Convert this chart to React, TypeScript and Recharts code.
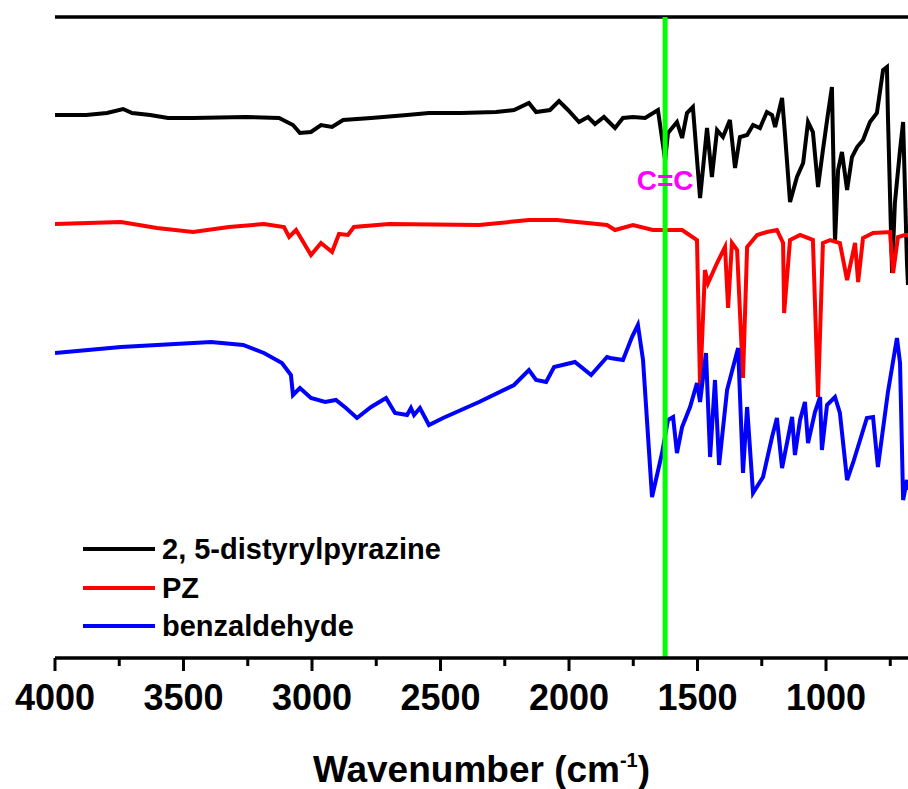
import React from "react";
import {
  LineChart,
  Line,
  XAxis,
  YAxis,
  ReferenceLine,
  Legend,
} from "recharts";

// wavenumbers (cm-1) and relative transmittance (a.u., offset spectra)
const blackWn = [4000, 3879, 3798, 3735, 3700, 3630, 3560, 3463, 3257, 3128, 3074, 3047, 3004, 2965, 2922, 2879, 2770, 2630, 2545, 2420, 2284, 2214, 2156, 2128, 2074, 2039, 2004, 1961, 1926, 1899, 1864, 1821, 1790, 1751, 1704, 1654, 1626, 1615, 1580, 1560, 1541, 1518, 1490, 1463, 1444, 1424, 1401, 1374, 1354, 1335, 1307, 1284, 1257, 1230, 1210, 1198, 1171, 1160, 1140, 1113, 1089, 1070, 1051, 1031, 1012, 992, 977, 965, 953, 938, 918, 899, 879, 856, 829, 802, 778, 763, 759, 743, 732, 712, 700, 685, 681];
const blackT = [543, 543, 545, 549, 545, 543, 540, 540, 541, 540, 533, 525, 526, 533, 531, 538, 540, 543, 545, 545, 546, 548, 555, 546, 548, 557, 548, 536, 541, 534, 541, 530, 540, 541, 540, 548, 498, 525, 536, 520, 545, 551, 460, 530, 481, 528, 521, 538, 490, 521, 523, 533, 530, 546, 543, 531, 560, 525, 456, 481, 495, 536, 526, 471, 508, 545, 571, 416, 488, 506, 468, 501, 511, 518, 536, 545, 588, 591, 541, 385, 455, 508, 536, 395, 373];

const redWn = [4000, 3743, 3603, 3463, 3323, 3187, 3109, 3089, 3062, 3004, 2965, 2922, 2895, 2860, 2837, 2700, 2350, 2156, 2047, 1852, 1821, 1751, 1674, 1560, 1502, 1490, 1471, 1459, 1424, 1393, 1381, 1366, 1346, 1323, 1307, 1268, 1230, 1191, 1167, 1163, 1140, 1101, 1051, 1031, 1012, 984, 946, 918, 887, 875, 856, 817, 751, 739, 720, 693, 681];
const redT = [434, 436, 430, 426, 431, 434, 431, 421, 428, 403, 415, 406, 424, 423, 431, 434, 433, 438, 438, 433, 428, 433, 428, 428, 418, 270, 388, 375, 395, 411, 350, 415, 408, 280, 411, 423, 426, 428, 415, 345, 418, 423, 418, 261, 415, 418, 415, 378, 415, 376, 420, 425, 426, 385, 421, 423, 423];

const blueWn = [4000, 3743, 3393, 3268, 3187, 3117, 3082, 3074, 3047, 3004, 2949, 2907, 2868, 2825, 2770, 2712, 2677, 2630, 2615, 2603, 2580, 2545, 2490, 2350, 2214, 2156, 2128, 2089, 2058, 1977, 1914, 1852, 1840, 1790, 1755, 1732, 1712, 1677, 1638, 1615, 1595, 1580, 1560, 1529, 1502, 1490, 1467, 1451, 1432, 1416, 1385, 1342, 1323, 1307, 1284, 1245, 1210, 1191, 1171, 1132, 1121, 1101, 1082, 1070, 1043, 1023, 1016, 996, 965, 946, 918, 895, 841, 817, 798, 759, 724, 712, 700, 685, 681];
const blueT = [305, 311, 316, 313, 305, 295, 283, 263, 270, 260, 256, 258, 250, 240, 251, 260, 245, 243, 250, 243, 250, 233, 240, 256, 273, 288, 278, 276, 291, 296, 283, 301, 300, 298, 321, 333, 298, 161, 205, 238, 241, 205, 231, 251, 275, 256, 305, 201, 278, 193, 268, 310, 185, 251, 165, 181, 221, 240, 190, 241, 203, 238, 256, 215, 246, 261, 208, 253, 261, 245, 178, 195, 240, 241, 191, 266, 320, 295, 158, 178, 168];

const majorTicks = [4000, 3500, 3000, 2500, 2000, 1500, 1000];
const allTicks = [4000, 3750, 3500, 3250, 3000, 2750, 2500, 2250, 2000, 1750, 1500, 1250, 1000, 750];

const CC_POS = 1626;
const Y_MAX = 641;

const toRows = (wn: number[], t: number[]) => wn.map((w, i) => ({ wn: w, t: t[i] }));
const blackData = toRows(blackWn, blackT);
const redData = toRows(redWn, redT);
const blueData = toRows(blueWn, blueT);

const FONT = '"Liberation Sans", Arial, sans-serif';

const WnTick = (props: any) => {
  const { x, y, payload } = props;
  const major = majorTicks.includes(payload.value);
  return (
    <g>
      <line x1={x} x2={x} y1={y} y2={y + (major ? 13 : 8)} stroke="#000" strokeWidth={3} />
      {major && (
        <text x={x} y={y + 52} textAnchor="middle" fontFamily={FONT} fontWeight="bold" fontSize={36} fill="#000">
          {payload.value}
        </text>
      )}
    </g>
  );
};

const AxisTitle = (props: any) => {
  const vb = props.viewBox || {};
  const cx = vb.x + vb.width / 2;
  return (
    <text x={cx} y={vb.y + 124} textAnchor="middle" fontFamily={FONT} fontWeight="bold" fontSize={37} fill="#000">
      Wavenumber (cm<tspan dy={-15} fontSize={20}>-1</tspan>
      <tspan dy={15}>)</tspan>
    </text>
  );
};

const CCLabel = (props: any) => {
  const vb = props.viewBox || {};
  return (
    <text x={vb.x} y={vb.y + 173} textAnchor="middle" fontFamily={FONT} fontWeight="bold" fontSize={28} fill="#ff00ff">
      C=C
    </text>
  );
};

const LegendBox = (props: any) => {
  const items = props.payload || [];
  return (
    <div style={{ fontFamily: FONT, fontWeight: "bold", fontSize: 29 }}>
      {items.map((it: any) => (
        <div key={it.value} style={{ display: "flex", alignItems: "center", height: 38.5 }}>
          <div style={{ width: 72, height: 4, background: it.color, marginRight: 7 }} />
          <span style={{ color: "#000", lineHeight: "38px" }}>{it.value}</span>
        </div>
      ))}
    </div>
  );
};

export default function App() {
  return (
    <div style={{ position: "absolute", left: 0, top: 0, width: 908, height: 789, background: "#fff" }}>
      <LineChart width={908} height={789} margin={{ top: 17, right: 0, left: 55, bottom: 0 }}>
        <XAxis
          type="number"
          dataKey="wn"
          domain={[681, 4000]}
          reversed
          allowDataOverflow
          ticks={allTicks}
          interval={0}
          tick={<WnTick />}
          tickLine={false}
          tickSize={0}
          tickMargin={0}
          height={131}
          axisLine={{ stroke: "#000", strokeWidth: 3.5 }}
          label={<AxisTitle />}
        />
        <YAxis
          type="number"
          domain={[0, Y_MAX]}
          allowDataOverflow
          width={0}
          tick={false}
          tickLine={false}
          axisLine={{ stroke: "#000", strokeWidth: 3.5 }}
        />
        <ReferenceLine y={Y_MAX} stroke="#000" strokeWidth={3.5} />
        <Line data={blackData} dataKey="t" name="2, 5-distyrylpyrazine" stroke="#000000" strokeWidth={4} dot={false} type="linear" isAnimationActive={false} />
        <Line data={redData} dataKey="t" name="PZ" stroke="#ff0000" strokeWidth={4} dot={false} type="linear" isAnimationActive={false} />
        <Line data={blueData} dataKey="t" name="benzaldehyde" stroke="#0000ff" strokeWidth={4} dot={false} type="linear" isAnimationActive={false} />
        <ReferenceLine x={CC_POS} stroke="#00ff00" strokeWidth={5} label={<CCLabel />} />
        <Legend
          layout="horizontal"
          verticalAlign="middle"
          align="center"
          content={<LegendBox />}
          wrapperStyle={{ left: 83, top: 530, width: 440 }}
        />
      </LineChart>
    </div>
  );
}
